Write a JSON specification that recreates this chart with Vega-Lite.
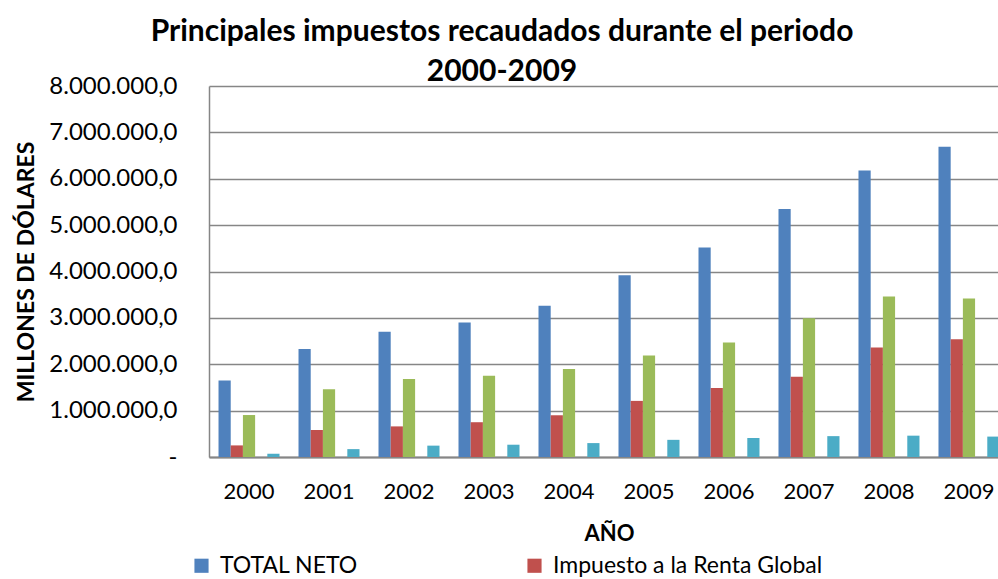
{
  "$schema": "https://vega.github.io/schema/vega-lite/v6.json",
  "width": 800,
  "height": 371,
  "padding": {"left": 15, "top": 17, "right": 0, "bottom": 0},
  "background": "white",
  "config": {
    "font": "Lato",
    "locale": {"number": {"decimal": ",", "thousands": ".", "grouping": [3], "currency": ["$", ""]}},
    "view": {"stroke": null}
  },
  "title": {
    "text": ["Principales impuestos recaudados durante el periodo", "2000-2009"],
    "font": "Lato",
    "fontSize": 30,
    "fontWeight": "bold",
    "color": "#000000",
    "lineHeight": 40,
    "anchor": "middle",
    "dx": -107,
    "offset": -13
  },
  "data": {
    "values": [
      {"anio": "2000", "serie": "TOTAL NETO", "valor": 1650000},
      {"anio": "2001", "serie": "TOTAL NETO", "valor": 2330000},
      {"anio": "2002", "serie": "TOTAL NETO", "valor": 2700000},
      {"anio": "2003", "serie": "TOTAL NETO", "valor": 2900000},
      {"anio": "2004", "serie": "TOTAL NETO", "valor": 3260000},
      {"anio": "2005", "serie": "TOTAL NETO", "valor": 3920000},
      {"anio": "2006", "serie": "TOTAL NETO", "valor": 4520000},
      {"anio": "2007", "serie": "TOTAL NETO", "valor": 5350000},
      {"anio": "2008", "serie": "TOTAL NETO", "valor": 6180000},
      {"anio": "2009", "serie": "TOTAL NETO", "valor": 6690000},
      {"anio": "2000", "serie": "Impuesto a la Renta Global", "valor": 250000},
      {"anio": "2001", "serie": "Impuesto a la Renta Global", "valor": 580000},
      {"anio": "2002", "serie": "Impuesto a la Renta Global", "valor": 660000},
      {"anio": "2003", "serie": "Impuesto a la Renta Global", "valor": 750000},
      {"anio": "2004", "serie": "Impuesto a la Renta Global", "valor": 900000},
      {"anio": "2005", "serie": "Impuesto a la Renta Global", "valor": 1210000},
      {"anio": "2006", "serie": "Impuesto a la Renta Global", "valor": 1490000},
      {"anio": "2007", "serie": "Impuesto a la Renta Global", "valor": 1730000},
      {"anio": "2008", "serie": "Impuesto a la Renta Global", "valor": 2360000},
      {"anio": "2009", "serie": "Impuesto a la Renta Global", "valor": 2540000},
      {"anio": "2000", "serie": "IVA", "valor": 905000},
      {"anio": "2001", "serie": "IVA", "valor": 1460000},
      {"anio": "2002", "serie": "IVA", "valor": 1680000},
      {"anio": "2003", "serie": "IVA", "valor": 1750000},
      {"anio": "2004", "serie": "IVA", "valor": 1900000},
      {"anio": "2005", "serie": "IVA", "valor": 2190000},
      {"anio": "2006", "serie": "IVA", "valor": 2470000},
      {"anio": "2007", "serie": "IVA", "valor": 2990000},
      {"anio": "2008", "serie": "IVA", "valor": 3460000},
      {"anio": "2009", "serie": "IVA", "valor": 3420000},
      {"anio": "2000", "serie": "ICE", "valor": 70000},
      {"anio": "2001", "serie": "ICE", "valor": 170000},
      {"anio": "2002", "serie": "ICE", "valor": 245000},
      {"anio": "2003", "serie": "ICE", "valor": 265000},
      {"anio": "2004", "serie": "ICE", "valor": 300000},
      {"anio": "2005", "serie": "ICE", "valor": 370000},
      {"anio": "2006", "serie": "ICE", "valor": 410000},
      {"anio": "2007", "serie": "ICE", "valor": 450000},
      {"anio": "2008", "serie": "ICE", "valor": 460000},
      {"anio": "2009", "serie": "ICE", "valor": 440000}
    ]
  },
  "mark": {"type": "bar"},
  "encoding": {
    "x": {
      "field": "anio",
      "type": "nominal",
      "scale": {"paddingInner": 0.2375, "paddingOuter": 0.119},
      "axis": {
        "title": "AÑO",
        "titleFont": "Lato",
        "titleFontSize": 22,
        "titleFontWeight": "bold",
        "titleColor": "#000000",
        "titlePadding": 21,
        "labelAngle": 0,
        "labelFont": "Lato",
        "labelFontSize": 22,
        "labelColor": "#000000",
        "labelPadding": 24,
        "ticks": false,
        "domainColor": "#868686",
        "domainWidth": 2,
        "grid": false
      }
    },
    "xOffset": {
      "field": "serie",
      "type": "nominal",
      "scale": {"domain": ["TOTAL NETO", "Impuesto a la Renta Global", "IVA", "Otros", "ICE"], "paddingInner": 0, "paddingOuter": 0}
    },
    "y": {
      "field": "valor",
      "type": "quantitative",
      "scale": {"domain": [0, 8000000], "nice": false},
      "axis": {
        "title": "MILLONES DE DÓLARES",
        "titleFont": "Lato",
        "titleFontSize": 23,
        "titleFontWeight": "bold",
        "titleColor": "#000000",
        "titlePadding": 10,
        "values": [0, 1000000, 2000000, 3000000, 4000000, 5000000, 6000000, 7000000, 8000000],
        "format": ",.1f",
        "labelExpr": "datum.value === 0 ? '-' : datum.label",
        "labelFont": "Lato",
        "labelFontSize": 24,
        "labelColor": "#000000",
        "labelPadding": 32,
        "ticks": false,
        "domainColor": "#868686",
        "domainWidth": 1.5,
        "gridColor": "#868686",
        "gridWidth": 1.5
      }
    },
    "color": {
      "field": "serie",
      "type": "nominal",
      "scale": {
        "domain": ["TOTAL NETO", "Impuesto a la Renta Global", "IVA", "Otros", "ICE"],
        "range": ["#4F81BD", "#C0504D", "#9BBB59", "#8064A2", "#4BACC6"]
      },
      "legend": {
        "title": null,
        "values": ["TOTAL NETO", "Impuesto a la Renta Global"],
        "orient": "none",
        "direction": "horizontal",
        "columns": 2,
        "legendX": -19,
        "legendY": 468,
        "symbolType": "square",
        "symbolSize": 200,
        "symbolStrokeWidth": 0,
        "symbolOffset": 0,
        "labelOffset": 7,
        "labelFont": "Lato",
        "labelFontSize": 23,
        "labelColor": "#000000",
        "labelLimit": 400,
        "columnPadding": 165,
        "rowPadding": 40
      }
    }
  }
}
